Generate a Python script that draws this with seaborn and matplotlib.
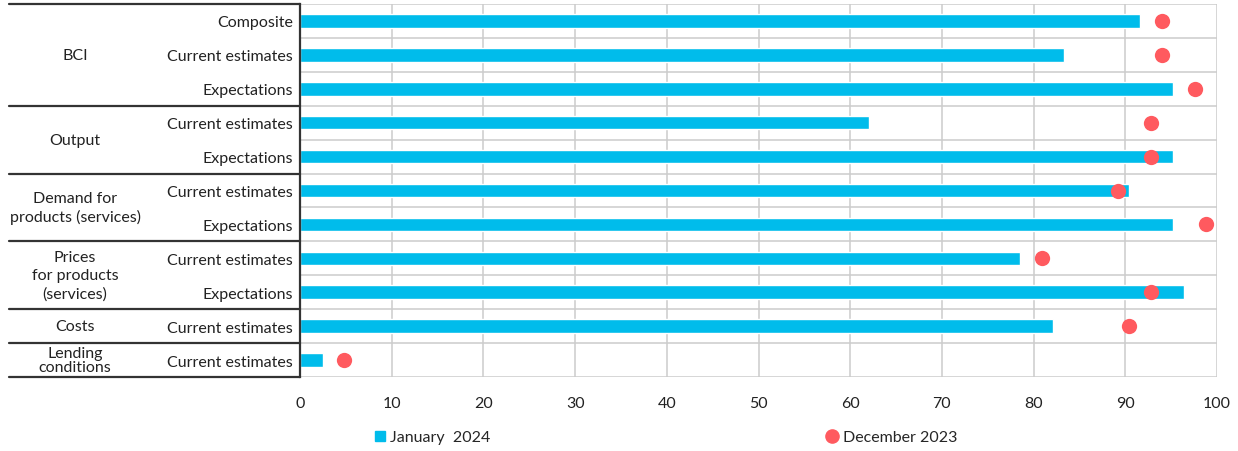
import matplotlib
matplotlib.use("Agg")
import matplotlib.pyplot as plt
from matplotlib.lines import Line2D
import seaborn as sns
import pandas as pd

# ---- data ----
groups = ["BCI", "Output", "Demand for\nproducts (services)",
          "Prices\nfor products\n(services)", "Costs", "Lending\nconditions"]
group_sizes = [3, 2, 2, 2, 1, 1]
sub_labels = ["Composite", "Current estimates", "Expectations",
              "Current estimates", "Expectations",
              "Current estimates", "Expectations",
              "Current estimates", "Expectations",
              "Current estimates",
              "Current estimates"]
jan_2024 = [91.6, 83.3, 95.2, 62.0, 95.2, 90.4, 95.2, 78.5, 96.4, 82.1, 2.5]
dec_2023 = [94.0, 94.0, 97.6, 92.8, 92.8, 89.2, 98.8, 80.9, 92.8, 90.4, 4.8]
x_ticks = [0, 10, 20, 30, 40, 50, 60, 70, 80, 90, 100]
series_names = ["January  2024", "December 2023"]

BAR_C = "#00BCEB"
DOT_C = "#FF5A5F"

sns.set_theme(style="white")
plt.rcParams["font.family"] = ["Lato", "DejaVu Sans"]

keys = [f"r{i}" for i in range(len(sub_labels))]
df = pd.DataFrame({"key": keys, "jan": jan_2024, "dec": dec_2023})

W, H = 1238, 452
fig = plt.figure(figsize=(W / 100, H / 100), dpi=100)
L, R, T, B = 300, 1217, 5, 378
ax = fig.add_axes([L / W, 1 - B / H, (R - L) / W, (B - T) / H])

sns.barplot(data=df, x="jan", y="key", orient="h", color=BAR_C,
            width=0.4, saturation=1, ax=ax, zorder=3)
sns.stripplot(data=df, x="dec", y="key", orient="h", color=DOT_C,
              jitter=False, size=11, linewidth=0, ax=ax, zorder=4)

n = len(sub_labels)
ax.set_xlim(0, 100)
ax.set_ylim(n - 0.5, -0.5)
ax.set_xticks(x_ticks)
ax.set_xticklabels([str(t) for t in x_ticks], fontsize=11.5, color="#222222")
ax.set_yticks(range(n))
ax.set_yticklabels(sub_labels, fontsize=11.5, color="#222222")
ax.tick_params(axis="both", length=0)
ax.tick_params(axis="y", pad=5)
ax.tick_params(axis="x", pad=14)
ax.set_xlabel("")
ax.set_ylabel("")

grid_c = "#cccccc"
for t in x_ticks[1:]:
    ax.axvline(t, color=grid_c, lw=1.1, zorder=1)
for b in [i - 0.5 for i in range(n + 1)]:
    ax.axhline(b, color=grid_c, lw=1.1, zorder=1)
for s in ["top", "right", "bottom"]:
    ax.spines[s].set_visible(False)
ax.spines["left"].set_color("#333333")
ax.spines["left"].set_linewidth(1.6)
ax.spines["left"].set_zorder(5)

# left-hand grouping table
trans = ax.get_yaxis_transform()
x0 = (9 - L) / (R - L)
xc = (75 - L) / (R - L)
start = 0
bounds = [-0.5]
for g, sz in zip(groups, group_sizes):
    mid = start + (sz - 1) / 2
    ls = 1.05 if g.startswith("Lending") else 1.35
    ax.text(xc, mid, g, transform=trans, ha="center", va="center",
            fontsize=11.5, color="#222222", linespacing=ls, clip_on=False)
    start += sz
    bounds.append(start - 0.5)
for b in bounds:
    ax.add_line(Line2D([x0, 0], [b, b], transform=trans, color="#333333",
                       lw=1.6, clip_on=False))

# legends
h1 = Line2D([], [], marker="s", color=BAR_C, linestyle="none", markersize=7)
h2 = Line2D([], [], marker="o", color=DOT_C, linestyle="none", markersize=9.5)
fig.legend([h1], [series_names[0]], loc="center left",
           bbox_to_anchor=(372 / W, 1 - 438 / H), frameon=False,
           fontsize=11.5, handletextpad=0.1, handlelength=1.0,
           borderaxespad=0, borderpad=0)
fig.legend([h2], [series_names[1]], loc="center left",
           bbox_to_anchor=(824 / W, 1 - 438 / H), frameon=False,
           fontsize=11.5, handletextpad=0.2, handlelength=1.0,
           borderaxespad=0, borderpad=0)

fig.savefig("out.png", dpi=100)
